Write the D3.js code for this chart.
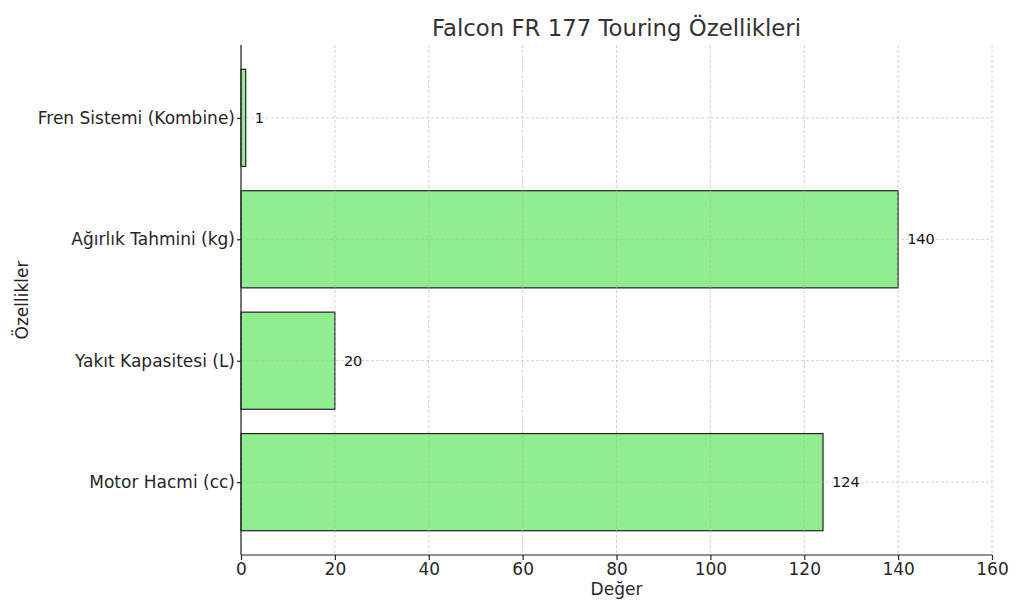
<!DOCTYPE html>
<html>
<head>
<meta charset="utf-8">
<script src="https://cdn.jsdelivr.net/npm/d3@7"></script>
<style>
  body { margin: 0; background: #fff; }
  text { font-family: "DejaVu Sans", sans-serif; }
</style>
</head>
<body>
<div id="chart"></div>
<script>
// Chart data (bottom to top, as drawn)
var categories = ["Motor Hacmi (cc)", "Yakıt Kapasitesi (L)", "Ağırlık Tahmini (kg)", "Fren Sistemi (Kombine)"],
    values = [124, 20, 140, 1],
    xTicks = [0, 20, 40, 60, 80, 100, 120, 140, 160];

var width = 1024, height = 614,
    margin = {left: 241, right: 32, top: 45, bottom: 59};

var svg = d3.select("#chart").append("svg")
    .attr("width", width)
    .attr("height", height);

var x = d3.scaleLinear()
    .domain([0, 160])
    .range([margin.left, width - margin.right]);

// category index as a continuous y, like matplotlib's barh
var y = d3.scaleLinear()
    .domain([-0.6, categories.length - 0.4])
    .range([height - margin.bottom, margin.top]);

var barH = y(0) - y(0.8);

// Bars
svg.selectAll(".bar")
    .data(values)
  .enter().append("rect")
    .attr("class", "bar")
    .attr("x", x(0))
    .attr("y", function(d, i) { return y(i + 0.4); })
    .attr("width", function(d) { return x(d) - x(0); })
    .attr("height", barH)
    .style("fill", "#90ee90")
    .style("stroke", "#222")
    .style("stroke-width", 1.2);

// Grid on top of bars
var grid = svg.append("g").attr("class", "grid");
grid.selectAll(".vgrid")
    .data(xTicks)
  .enter().append("line")
    .attr("x1", function(d) { return x(d); })
    .attr("x2", function(d) { return x(d); })
    .attr("y1", y.range()[1])
    .attr("y2", y.range()[0])
    .style("stroke", "#b0b0b0")
    .style("stroke-width", 0.8)
    .style("stroke-dasharray", "3,2")
    .style("opacity", 0.7);
grid.selectAll(".hgrid")
    .data(categories)
  .enter().append("line")
    .attr("x1", x.range()[0])
    .attr("x2", x.range()[1])
    .attr("y1", function(d, i) { return y(i); })
    .attr("y2", function(d, i) { return y(i); })
    .style("stroke", "#b0b0b0")
    .style("stroke-width", 0.8)
    .style("stroke-dasharray", "3,2")
    .style("opacity", 0.7);

// Value labels
svg.selectAll(".val")
    .data(values)
  .enter().append("text")
    .attr("class", "val")
    .attr("x", function(d) { return x(d) + 9; })
    .attr("y", function(d, i) { return y(i); })
    .attr("dy", "0.35em")
    .style("font-size", "14.5px")
    .style("fill", "#111")
    .text(function(d) { return d; });

// Axes
var xAxis = svg.append("g")
    .attr("transform", "translate(0," + (height - margin.bottom) + ")")
    .call(d3.axisBottom(x).tickValues(xTicks).tickSize(5).tickPadding(3));

var yAxis = svg.append("g")
    .attr("transform", "translate(" + margin.left + ",0)")
    .call(d3.axisLeft(y)
      .tickValues(d3.range(categories.length))
      .tickFormat(function(i) { return categories[i]; })
      .tickSize(4).tickPadding(2));

[xAxis, yAxis].forEach(function(a) {
  a.select(".domain").style("stroke", "#222").style("stroke-width", 1.2);
  a.selectAll(".tick line").style("stroke", "#222").style("stroke-width", 1.2);
  a.selectAll(".tick text")
      .style("font-size", "17px")
      .style("fill", "#262626")
      .style("font-family", "DejaVu Sans, sans-serif");
});
// remove end caps of domain paths to look like spines
xAxis.select(".domain").attr("d", "M" + x.range()[0] + ",0H" + x.range()[1]);
yAxis.select(".domain").attr("d", "M0," + y.range()[1] + "V" + y.range()[0]);

// Title and axis labels
svg.append("text")
    .attr("x", (x.range()[0] + x.range()[1]) / 2)
    .attr("y", 36)
    .attr("text-anchor", "middle")
    .style("font-size", "22.8px")
    .style("fill", "#333")
    .text("Falcon FR 177 Touring Özellikleri");

svg.append("text")
    .attr("x", (x.range()[0] + x.range()[1]) / 2)
    .attr("y", 595)
    .attr("text-anchor", "middle")
    .style("font-size", "17px")
    .style("fill", "#262626")
    .text("Değer");

svg.append("text")
    .attr("transform", "translate(28," + ((y.range()[0] + y.range()[1]) / 2) + ") rotate(-90)")
    .attr("text-anchor", "middle")
    .style("font-size", "17px")
    .style("fill", "#262626")
    .text("Özellikler");
</script>
</body>
</html>
